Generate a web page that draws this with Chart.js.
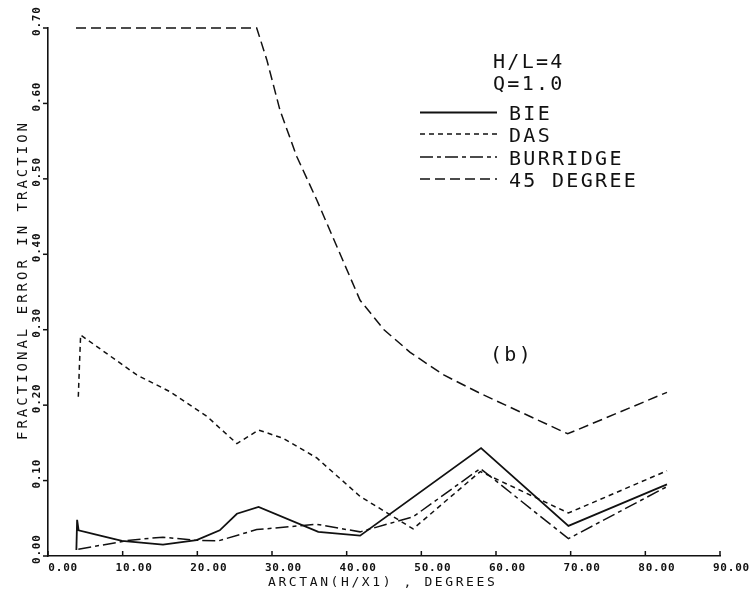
<!DOCTYPE html>
<html>
<head>
<meta charset="utf-8">
<script src="https://cdn.jsdelivr.net/npm/chart.js@4.4.1/dist/chart.umd.min.js"></script>
<style>
  body { margin: 0; background: #fff; }
  canvas { display: block; }
</style>
</head>
<body>
<canvas id="chart" width="751" height="594"></canvas>
<script>
// values
const bieX = [3.8, 3.9, 4.1, 7.0, 9.9, 15.4, 19.9, 23.0, 25.3, 28.2, 36.2, 41.8, 58.0, 69.7, 82.9];
const bieY = [0.008, 0.048, 0.034, 0.027, 0.020, 0.015, 0.021, 0.034, 0.056, 0.065, 0.032, 0.027, 0.143, 0.040, 0.095];

const dasX = [4.06, 4.2, 4.37, 11.9, 16.3, 21.3, 25.3, 28.2, 31.5, 36.0, 41.8, 48.9, 57.9, 69.7, 82.9];
const dasY = [0.211, 0.250, 0.293, 0.240, 0.218, 0.185, 0.149, 0.167, 0.156, 0.130, 0.079, 0.036, 0.112, 0.057, 0.113];

const burX = [4.06, 11.0, 15.4, 19.5, 22.8, 27.95, 36.0, 41.8, 48.9, 57.9, 69.7, 82.9];
const burY = [0.009, 0.021, 0.025, 0.021, 0.020, 0.035, 0.042, 0.032, 0.052, 0.116, 0.023, 0.092];

const degX = [3.75, 27.95, 29.3, 31.07, 33.3, 36.0, 38.7, 41.8, 45.0, 48.5, 53.0, 58.0, 69.6, 82.9];
const degY = [0.700, 0.700, 0.658, 0.591, 0.530, 0.472, 0.410, 0.339, 0.300, 0.270, 0.240, 0.215, 0.162, 0.217];

const xTickLabels = ['0.00', '10.00', '20.00', '30.00', '40.00', '50.00', '60.00', '70.00', '80.00', '90.00'];
const yTickLabels = ['0.00', '0.10', '0.20', '0.30', '0.40', '0.50', '0.60', '0.70'];

const seriesNames = ['BIE', 'DAS', 'BURRIDGE', '45 DEGREE'];
const noteLines = ['H/L=4', 'Q=1.0'];

const toPoints = (xs, ys) => xs.map((x, i) => ({ x: x, y: ys[i] }));

function lineSet(label, pts, dash, width) {
    return {
        label: label,
        data: pts,
        borderColor: '#111',
        borderWidth: width,
        borderDash: dash,
        pointRadius: 0,
        tension: 0,
        fill: false,
        clip: false
    };
}

const MONO = '"DejaVu Sans Mono", monospace';

// draws tick marks, labels, titles and the legend box in the plotter style
const plotterText = {
    id: 'plotterText',
    afterDraw(chart) {
        const ctx = chart.ctx;
        const xs = chart.scales.x, ys = chart.scales.y;
        const area = chart.chartArea;
        ctx.save();
        ctx.fillStyle = '#111';
        ctx.strokeStyle = '#111';
        ctx.lineWidth = 1.5;
        ctx.setLineDash([]);

        // x ticks + labels
        ctx.font = 'bold 11px ' + MONO;
        ctx.letterSpacing = '0.8px';
        ctx.textAlign = 'right';
        ctx.textBaseline = 'alphabetic';
        xTickLabels.forEach(t => {
            const px = xs.getPixelForValue(parseFloat(t));
            ctx.beginPath();
            ctx.moveTo(px, area.bottom);
            ctx.lineTo(px, area.bottom - 5);
            ctx.stroke();
            ctx.fillText(t, px + 30, area.bottom + 15);
        });

        // y ticks + rotated labels
        yTickLabels.forEach(t => {
            const py = ys.getPixelForValue(parseFloat(t));
            ctx.beginPath();
            ctx.moveTo(area.left, py);
            ctx.lineTo(area.left - 5, py);
            ctx.stroke();
            ctx.save();
            ctx.translate(40, py + 8);
            ctx.rotate(-Math.PI / 2);
            ctx.textAlign = 'left';
            ctx.fillText(t, 0, 0);
            ctx.restore();
        });

        // axis titles
        ctx.font = '13px ' + MONO;
        ctx.letterSpacing = '2.6px';
        ctx.textAlign = 'left';
        ctx.fillText('ARCTAN(H/X1) , DEGREES', 268, 586);

        ctx.save();
        ctx.font = '14px ' + MONO;
        ctx.letterSpacing = '3px';
        ctx.translate(27, 440);
        ctx.rotate(-Math.PI / 2);
        ctx.fillText('FRACTIONAL ERROR IN TRACTION', 0, 0);
        ctx.restore();

        // annotation and legend
        ctx.font = '20px ' + MONO;
        ctx.letterSpacing = '2.3px';
        ctx.fillText(noteLines[0], 493, 68);
        ctx.fillText(noteLines[1], 493, 90);
        ctx.fillText('(b)', 490, 361);

        const rows = [120, 141.5, 164.5, 186.5];
        chart.data.datasets.forEach((ds, i) => {
            const ly = rows[i] - 7.5;
            ctx.lineWidth = ds.borderWidth;
            ctx.setLineDash(ds.borderDash);
            ctx.beginPath();
            ctx.moveTo(420, ly);
            ctx.lineTo(497, ly);
            ctx.stroke();
            ctx.setLineDash([]);
            ctx.fillText(seriesNames[i], 509, rows[i]);
        });
        ctx.restore();
    }
};

new Chart(document.getElementById('chart').getContext('2d'), {
    type: 'line',
    data: {
        datasets: [
            lineSet(seriesNames[0], toPoints(bieX, bieY), [], 1.8),
            lineSet(seriesNames[1], toPoints(dasX, dasY), [5, 4], 1.5),
            lineSet(seriesNames[2], toPoints(burX, burY), [13, 4, 4, 4], 1.5),
            lineSet(seriesNames[3], toPoints(degX, degY), [10, 5], 1.5)
        ]
    },
    options: {
        responsive: false,
        animation: false,
        layout: { padding: { left: 48, right: 31, top: 28, bottom: 38 } },
        plugins: {
            legend: { display: false },
            tooltip: { enabled: false }
        },
        scales: {
            x: {
                type: 'linear',
                min: 0,
                max: 90,
                ticks: { display: false, stepSize: 10 },
                grid: { display: false },
                border: { color: '#111', width: 1.6 },
                afterFit: s => { s.height = 0; }
            },
            y: {
                type: 'linear',
                min: 0,
                max: 0.7,
                ticks: { display: false, stepSize: 0.1 },
                grid: { display: false },
                border: { color: '#111', width: 1.6 },
                afterFit: s => { s.width = 0; }
            }
        }
    },
    plugins: [plotterText]
});
</script>
</body>
</html>
